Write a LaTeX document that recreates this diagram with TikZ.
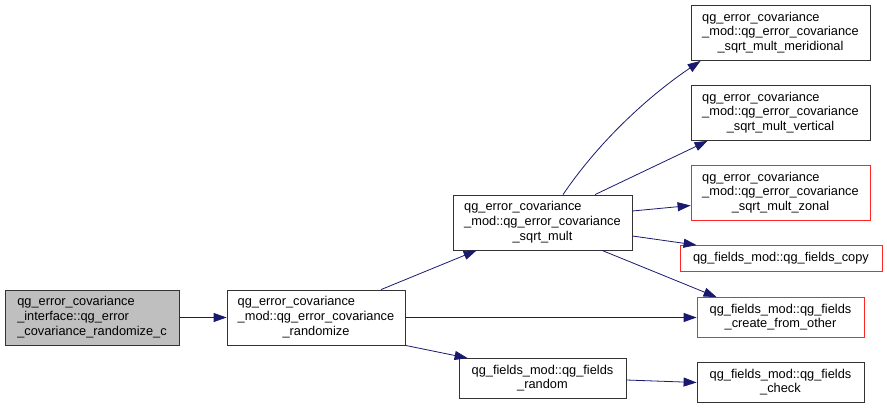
\documentclass[tikz,border=0pt]{standalone}
\usepackage{fontspec}
\setmainfont{Liberation Sans}
\usepackage{tikz}
\usetikzlibrary{arrows.meta}
\definecolor{edgeblue}{HTML}{191970}
\definecolor{boxgray}{HTML}{BFBFBF}
\newcommand{\fnbox}[2]{\begin{tabular}{@{}l@{}}#1\\\multicolumn{1}{@{}c@{}}{#2}\end{tabular}}
\tikzset{
  fn/.style={draw=black!80, fill=white, line width=0.8pt, inner sep=0pt,
    font=\fontsize{12.8}{14.6}\selectfont, minimum height=55pt},
  fnred/.style={fn, draw=red!85},
  call/.style={draw=edgeblue, line width=0.8pt, -{Triangle[length=13pt,width=9pt]}}
}
\begin{document}
\begin{tikzpicture}[x=1pt,y=-1pt]
  \useasboundingbox (0,0) rectangle (887,409);
  % callers
  \node[fn, fill=boxgray, minimum width=174pt] (randc) at (92,317.5)
    {\fnbox{qg\_error\_covariance\\\_interface::qg\_error}{\_covariance\_randomize\_c}};
  \node[fn, minimum width=178pt] (rand) at (316,317.5)
    {\fnbox{qg\_error\_covariance\\\_mod::qg\_error\_covariance}{\_randomize}};
  \node[fn, minimum width=179pt] (sqrt) at (542.5,222.5)
    {\fnbox{qg\_error\_covariance\\\_mod::qg\_error\_covariance}{\_sqrt\_mult}};
  \node[fn, minimum width=167pt, minimum height=40pt] (random) at (542.5,378.5)
    {\fnbox{qg\_fields\_mod::qg\_fields}{\_random}};
  % callees
  \node[fn, minimum width=179pt] (merid) at (780.5,33)
    {\fnbox{qg\_error\_covariance\\\_mod::qg\_error\_covariance}{\_sqrt\_mult\_meridional}};
  \node[fn, minimum width=179pt] (vert) at (780.5,113)
    {\fnbox{qg\_error\_covariance\\\_mod::qg\_error\_covariance}{\_sqrt\_mult\_vertical}};
  \node[fnred, minimum width=179pt] (zonal) at (780.5,193)
    {\fnbox{qg\_error\_covariance\\\_mod::qg\_error\_covariance}{\_sqrt\_mult\_zonal}};
  \node[fnred, minimum width=202pt, minimum height=26pt] (copy) at (781,258.5)
    {qg\_fields\_mod::qg\_fields\_copy};
  \node[fnred, minimum width=167pt, minimum height=40pt] (create) at (780.5,317.5)
    {\fnbox{qg\_fields\_mod::qg\_fields}{\_create\_from\_other}};
  \node[fn, minimum width=167pt, minimum height=40pt] (check) at (780.5,382.5)
    {\fnbox{qg\_fields\_mod::qg\_fields}{\_check}};

  \draw[call] (randc.east) -- (rand.west);
  \draw[call] ([xshift=65pt]rand.north) -- ([xshift=24pt]sqrt.south west);
  \draw[call] (rand.east) -- (create.west);
  \draw[call] (rand.south east) -- ([xshift=9pt]random.north west);
  \draw[call] ([xshift=20.5pt]sqrt.north) .. controls (600,140) and (650,95) .. ([xshift=10pt]merid.south west);
  \draw[call] ([xshift=52.5pt]sqrt.north) -- ([xshift=17pt]vert.south west);
  \draw[call] ([yshift=11.5pt]sqrt.east) -- ([yshift=-12.5pt]zonal.west);
  \draw[call] ([yshift=-13.5pt]sqrt.east) -- ([xshift=17pt]copy.north west);
  \draw[call] ([xshift=59.5pt]sqrt.south) -- ([xshift=20pt]create.north west);
  \draw[call] ([yshift=-1.5pt]random.east) -- (check.west);
\end{tikzpicture}
\end{document}
